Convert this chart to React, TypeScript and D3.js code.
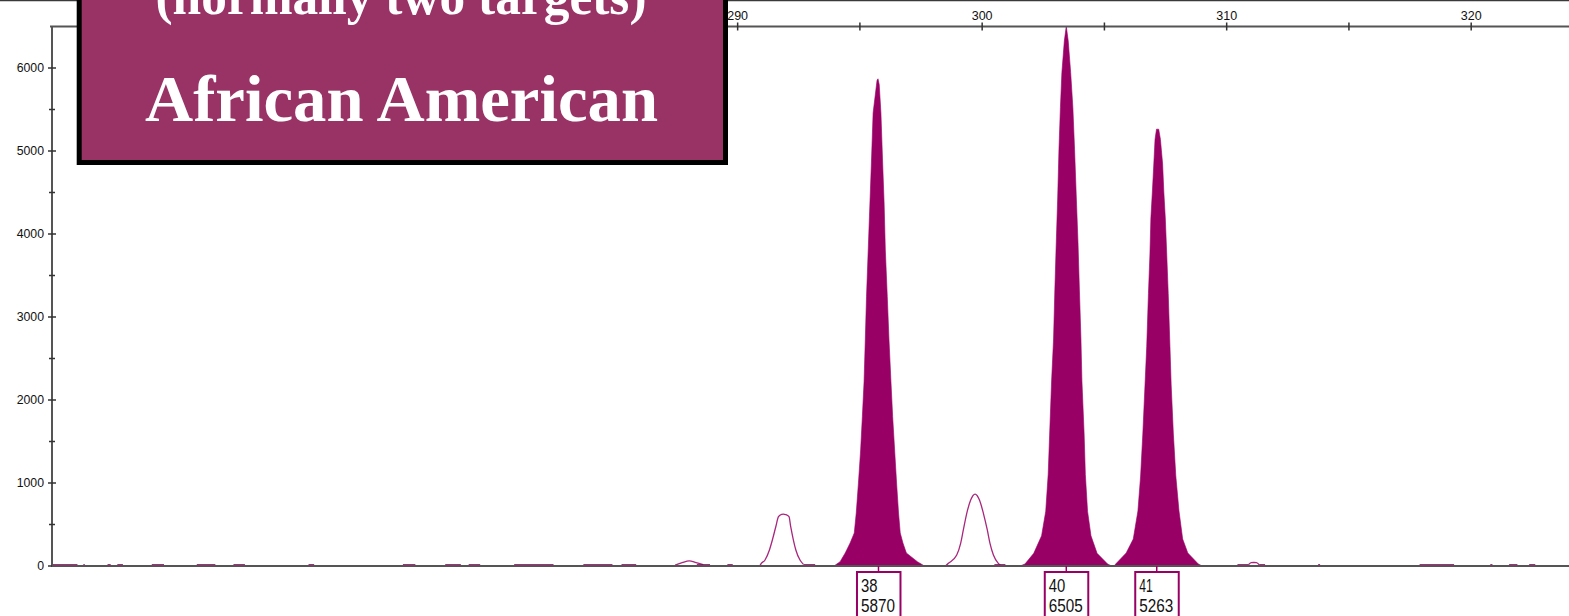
import React from 'react';
import * as d3 from 'd3';

const W = 1569;
const H = 616;

// axis ranges (bp on x, RFU on y)
const X_DOMAIN: [number, number] = [262, 324];
const Y_DOMAIN: [number, number] = [0, 6500];

const xMajorTicks = [270, 280, 290, 300, 310, 320];
const xMinorTicks = [265, 275, 285, 295, 305, 315];
const yMajorTicks = [0, 1000, 2000, 3000, 4000, 5000, 6000];
const yMinorTicks = [500, 1500, 2500, 3500, 4500, 5500];

// called (filled) peaks: [size bp, RFU]
const peak38: [number, number][] = [
  [293.94, 0], [294.19, 52], [294.40, 157], [294.60, 277], [294.77, 398], [294.85, 639],
  [294.94, 1000], [295.03, 1398], [295.10, 1799], [295.17, 2220], [295.22, 2723],
  [295.27, 3245], [295.34, 3807], [295.41, 4373], [295.47, 4855], [295.54, 5458],
  [295.70, 5850], [295.74, 5870], [295.79, 5800], [295.86, 5458], [295.93, 4855],
  [295.99, 4373], [296.04, 3807], [296.12, 3245], [296.19, 2723], [296.27, 2220],
  [296.34, 1799], [296.42, 1398], [296.50, 1000], [296.58, 639], [296.65, 398],
  [296.76, 277], [296.90, 157], [297.35, 52], [297.64, 0],
];
const peak40: [number, number][] = [
  [301.55, 0], [301.75, 24], [302.11, 153], [302.43, 364], [302.60, 660], [302.70, 1104],
  [302.76, 1590], [302.84, 2229], [302.92, 2735], [302.97, 3301], [303.03, 3894],
  [303.09, 4446], [303.14, 5014], [303.20, 5522], [303.26, 5944], [303.36, 6325],
  [303.44, 6505], [303.52, 6325], [303.62, 5944], [303.71, 5522], [303.78, 5014],
  [303.85, 4446], [303.92, 3894], [303.98, 3301], [304.04, 2735], [304.08, 2229],
  [304.17, 1590], [304.22, 1104], [304.31, 660], [304.45, 364], [304.70, 153],
  [305.13, 24], [305.30, 0],
];
const peak41: [number, number][] = [
  [305.40, 0], [305.46, 24], [305.89, 157], [306.18, 325], [306.37, 663], [306.48, 1084],
  [306.57, 1590], [306.66, 2182], [306.73, 2647], [306.80, 3281], [306.86, 3747],
  [306.90, 4193], [306.96, 4506], [307.02, 4844], [307.07, 5141], [307.13, 5263],
  [307.22, 5263], [307.29, 5141], [307.38, 4844], [307.43, 4506], [307.49, 4193],
  [307.55, 3747], [307.61, 3281], [307.68, 2647], [307.73, 2182], [307.82, 1590],
  [307.92, 1084], [308.05, 663], [308.20, 325], [308.41, 157], [308.84, 24], [309.00, 0],
];

// uncalled (outlined) peaks: [size bp, RFU]
const minorPeakA: [number, number][] = [
  [290.91, 0], [290.94, 20], [291.12, 72], [291.30, 193], [291.42, 313], [291.56, 473],
  [291.67, 594], [291.80, 623], [291.87, 626], [291.96, 620], [292.10, 594],
  [292.17, 473], [292.28, 313], [292.38, 193], [292.55, 72], [292.69, 20],
];
const minorPeakB: [number, number][] = [
  [298.50, 0], [298.62, 32], [298.96, 133], [299.12, 273], [299.23, 434], [299.37, 635],
  [299.53, 795], [299.71, 867], [299.89, 795], [300.05, 635], [300.21, 434],
  [300.32, 273], [300.46, 133], [300.66, 32], [300.80, 0],
];
const bumpC: [number, number][] = [
  [287.44, 10], [287.73, 40], [288.02, 62], [288.30, 40], [288.59, 15],
];
const bumpD: [number, number][] = [
  [310.89, 15], [311.00, 40], [311.11, 42], [311.22, 40], [311.33, 15],
];

// baseline noise segments [start bp, end bp]
const noiseSegments: [number, number][] = [
  [262.0, 263.0], [263.24, 263.30], [264.23, 264.36], [264.63, 264.86], [266.04, 266.54],
  [267.88, 268.64], [269.38, 269.85], [272.45, 272.68], [276.31, 276.82], [278.04, 278.68],
  [279.0, 279.47], [280.86, 282.47], [283.69, 284.88], [285.25, 285.85], [288.33, 288.87],
  [289.58, 289.80], [292.69, 293.17], [300.50, 300.95], [310.44, 310.89], [311.33, 311.57],
  [313.74, 313.82], [317.89, 319.30], [320.78, 320.87], [321.55, 321.89], [322.37, 322.62],
];
const NOISE_RFU = 22;

// allele call labels
const alleleNames = ['38', '40', '41'];
const alleleSizes = [295.76, 303.44, 307.14];
const alleleHeights = [5870, 6505, 5263];

const titleLine1 = '(normally two targets)';
const titleLine2 = 'African American';

const DYE = '#990066';
const AXIS = '#555555';

const BOX_LEFT = 76.7;
const BOX_RIGHT = 728;

export default function App() {
  const x = d3.scaleLinear().domain(X_DOMAIN).range([53, 1569]);
  const y = d3.scaleLinear().domain(Y_DOMAIN).range([566, 26.5]);

  const area = d3
    .area<[number, number]>()
    .x((d) => x(d[0]))
    .y0(y(0))
    .y1((d) => y(d[1]))
    .curve(d3.curveLinear);
  const line = d3
    .line<[number, number]>()
    .x((d) => x(d[0]))
    .y((d) => y(d[1]))
    .curve(d3.curveMonotoneX);

  const filled = [peak38, peak40, peak41];
  const outlined = [minorPeakA, minorPeakB, bumpC, bumpD];

  const yTop = y(Y_DOMAIN[1]);
  const y0 = y(0);
  const axisFont = '"Liberation Sans", Arial, sans-serif';

  // labels fully covered by the title box are not drawn
  const visibleXLabels = xMajorTicks.filter((t) => x(t) + 10 > BOX_RIGHT || x(t) - 10 < BOX_LEFT);

  return (
    <svg
      width={W}
      height={H}
      viewBox={`0 0 ${W} ${H}`}
      style={{ position: 'absolute', left: 0, top: 0, display: 'block', background: '#fff' }}
    >
      <rect x={0} y={0} width={W} height={H} fill="#fff" />
      {/* frame line at top */}
      <line x1={0} x2={W} y1={0.5} y2={0.5} stroke="#3a3a3a" strokeWidth={1.5} />

      {/* noise segments */}
      {noiseSegments.map(([a, b], i) => (
        <rect
          key={'n' + i}
          x={x(a)}
          width={Math.max(1.5, x(b) - x(a))}
          y={y(NOISE_RFU)}
          height={y0 - y(NOISE_RFU)}
          fill={DYE}
        />
      ))}

      {/* outlined peaks */}
      {outlined.map((p, i) => (
        <path key={'o' + i} d={line(p) || ''} fill="none" stroke={DYE} strokeWidth={1.3} opacity={0.85} />
      ))}

      {/* filled peaks */}
      {filled.map((p, i) => (
        <path key={'f' + i} d={area(p) || ''} fill={DYE} stroke={DYE} strokeWidth={0.6} />
      ))}

      {/* top axis */}
      <line x1={50} x2={W} y1={yTop} y2={yTop} stroke={AXIS} strokeWidth={2} />
      {xMajorTicks.map((t) => (
        <line key={'xt' + t} x1={x(t)} x2={x(t)} y1={yTop - 4} y2={yTop + 4} stroke="#333" strokeWidth={1.5} />
      ))}
      {visibleXLabels.map((t) => (
        <text
          key={'xl' + t}
          x={x(t)}
          y={19.5}
          textAnchor="middle"
          fontFamily={axisFont}
          fontSize={12.5}
          fill="#111"
        >
          {t}
        </text>
      ))}
      {xMinorTicks.map((t) => (
        <line key={'xm' + t} x1={x(t)} x2={x(t)} y1={yTop - 4} y2={yTop + 4} stroke="#333" strokeWidth={1.5} />
      ))}

      {/* y axis */}
      <line x1={52} x2={52} y1={yTop} y2={y0 + 1} stroke={AXIS} strokeWidth={2} />
      {yMajorTicks.map((t) => (
        <g key={'yt' + t}>
          <line x1={48} x2={56} y1={y(t)} y2={y(t)} stroke="#333" strokeWidth={1.5} />
          <text
            x={44}
            y={y(t) + 4.3}
            textAnchor="end"
            fontFamily={axisFont}
            fontSize={12.3}
            fill="#111"
          >
            {t}
          </text>
        </g>
      ))}
      {yMinorTicks.map((t) => (
        <line key={'ym' + t} x1={49} x2={55} y1={y(t)} y2={y(t)} stroke="#333" strokeWidth={1.5} />
      ))}

      {/* baseline */}
      <line x1={52} x2={W} y1={y0} y2={y0} stroke={AXIS} strokeWidth={2} />

      {/* allele labels */}
      {alleleNames.map((name, i) => {
        const px = x(alleleSizes[i]);
        const left = px - 21.5;
        return (
          <g key={'a' + name}>
            <line x1={px} x2={px} y1={y0} y2={572} stroke={DYE} strokeWidth={1.5} />
            <rect x={left} y={572} width={43.5} height={60} fill="#fff" stroke={DYE} strokeWidth={2} />
            <text
              x={left + 4}
              y={591.5}
              fontFamily={axisFont}
              fontSize={17.5}
              fill="#111"
              textLength={name === '41' ? 13.5 : 16.5}
              lengthAdjust="spacingAndGlyphs"
            >
              {name}
            </text>
            <text
              x={left + 4}
              y={611.5}
              fontFamily={axisFont}
              fontSize={17.5}
              fill="#111"
              textLength={34}
              lengthAdjust="spacingAndGlyphs"
            >
              {alleleHeights[i]}
            </text>
          </g>
        );
      })}

      {/* title box */}
      <rect x={79.2} y={-20} width={646.3} height={182.5} fill="#993366" stroke="#000" strokeWidth={5} />
      <text
        x={401}
        y={13.5}
        textAnchor="middle"
        fontFamily='"Liberation Serif", "DejaVu Serif", serif'
        fontWeight="bold"
        fontSize={52}
        fill="#fff"
        textLength={491}
        lengthAdjust="spacingAndGlyphs"
      >
        {titleLine1}
      </text>
      <text
        x={401.5}
        y={120.5}
        textAnchor="middle"
        fontFamily='"Liberation Serif", "DejaVu Serif", serif'
        fontWeight="bold"
        fontSize={66}
        fill="#fff"
        textLength={513}
        lengthAdjust="spacingAndGlyphs"
      >
        {titleLine2}
      </text>
    </svg>
  );
}
